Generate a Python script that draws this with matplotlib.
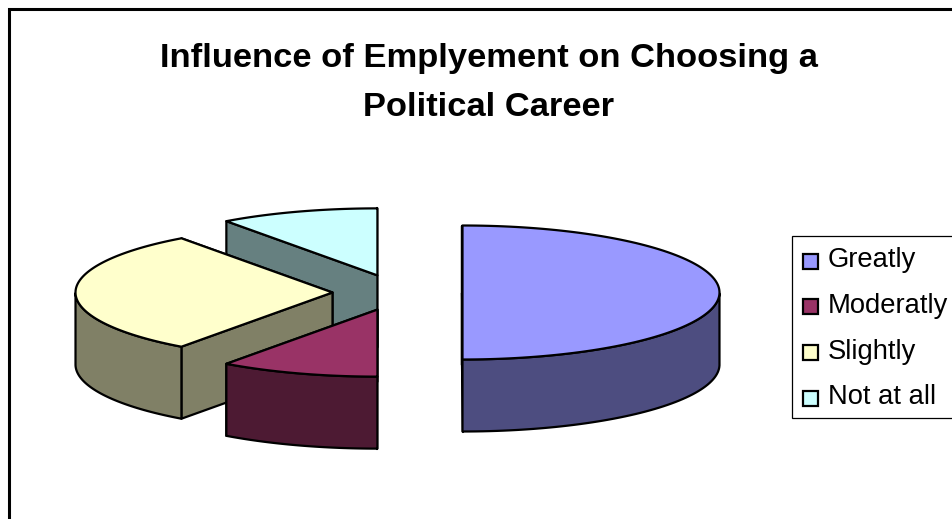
import numpy as np
from matplotlib import pyplot as plt
from matplotlib.patches import Polygon, Rectangle

plt.rcParams['font.family'] = ['Liberation Sans', 'DejaVu Sans']

# Survey shares, percent
categories = ['Greatly', 'Moderatly', 'Slightly', 'Not at all']
shares = [50, 10, 30, 10]
top_colors = ['#9999FF', '#993366', '#FFFFCC', '#CCFFFF']
side_colors = ['#4D4D80', '#4D1A33', '#808066', '#668080']
title = 'Influence of Emplyement on Choosing a\nPolitical Career'

# Pie geometry, canvas pixels
cx, cy = 397.5, 292.5
rx, ry = 257, 67
depth = 72
explode_x, explode_y = 65, 18
edge = 1.6

fig = plt.figure(figsize=(9.53, 5.19), dpi=100)
ax = fig.add_axes([0, 0, 1, 1])
ax.set_xlim(0, 953)
ax.set_ylim(519, 0)
ax.axis('off')

# Slice angles run clockwise from twelve o'clock
edges = np.cumsum([0] + shares) / sum(shares) * 2 * np.pi
slices = []
for i in range(len(shares)):
    mid = (edges[i] + edges[i + 1]) / 2
    slices.append((i, edges[i], edges[i + 1],
                   cx + explode_x * np.sin(mid), cy - explode_y * np.cos(mid)))


def draw_slice(i, start, end, ox, oy):
    t = np.linspace(start, end, 120)
    arc = np.column_stack([ox + rx * np.sin(t), oy - ry * np.cos(t)])
    apex = np.array([ox, oy])
    drop = np.array([0, depth])
    # cut faces; the one running down-left is in front, so it goes last
    for p in sorted([arc[0], arc[-1]], key=lambda q: q[1]):
        wall = [apex, p, p + drop, apex + drop]
        ax.add_patch(Polygon(wall, fc=side_colors[i], ec='black', lw=edge, joinstyle='round'))
    # outer rim, only the part turned towards the viewer
    front = arc[np.cos(t) <= 0]
    if len(front) > 1:
        rim = np.vstack([front, (front + drop)[::-1]])
        ax.add_patch(Polygon(rim, fc=side_colors[i], ec='black', lw=edge, joinstyle='round'))
    ax.add_patch(Polygon(np.vstack([apex, arc]), fc=top_colors[i], ec='black', lw=edge,
                         joinstyle='round'))


# back to front
for k in [3, 2, 1, 0]:
    draw_slice(*slices[k])

# chart area frame, only left and top fall on the canvas
ax.plot([9.5, 9.5, 960], [525, 8.8, 8.8], color='black', lw=2.2, solid_joinstyle='miter')

ax.text(489, 83, title, ha='center', va='center', fontsize=24.8, fontweight='bold',
        linespacing=1.79)

# legend box runs past the right edge
ax.add_patch(Rectangle((792, 236), 190, 182, fc='white', ec='black', lw=0.9))
for i, name in enumerate(categories):
    y = 261 + i * 45.8
    ax.add_patch(Rectangle((803.5, y - 7.5), 15, 15, fc=top_colors[i], ec='black', lw=1.6))
    ax.text(828, y - 1, name, ha='left', va='center', fontsize=19.7)

fig.savefig('out.png', dpi=100)
